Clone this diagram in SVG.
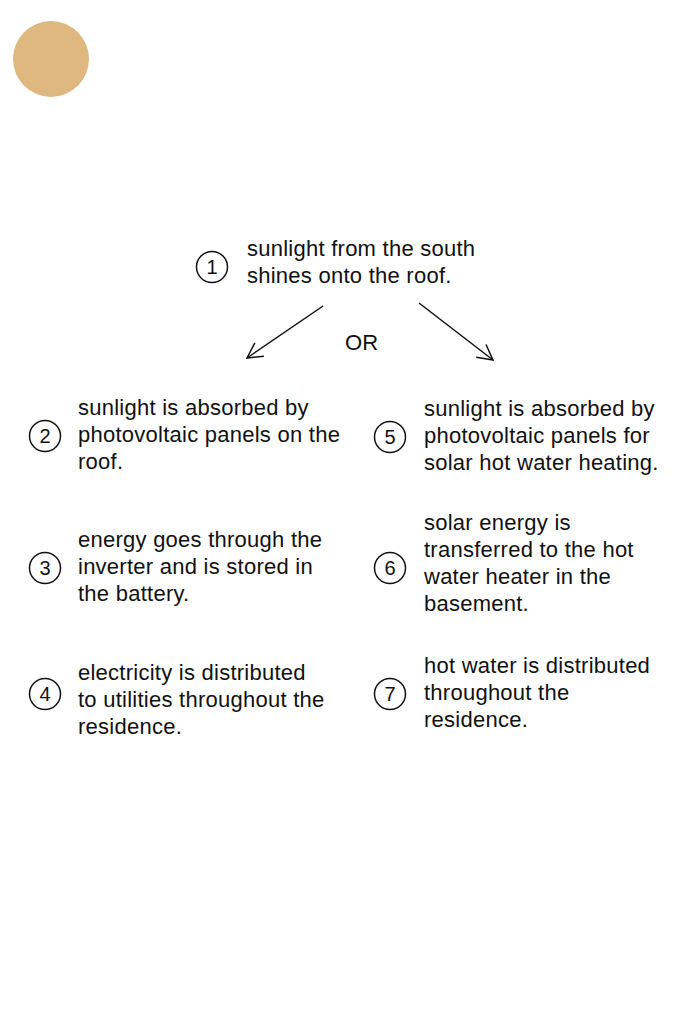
<svg xmlns="http://www.w3.org/2000/svg" width="694" height="1015" viewBox="0 0 694 1015">
<defs>
<style>
text{font-family:"Liberation Sans",Arial,sans-serif;font-size:22px;letter-spacing:0.25px;fill:#111}
.num{font-size:20px;letter-spacing:0;text-anchor:middle}
.ring{fill:none;stroke:#111;stroke-width:1.5}
.conn{fill:none;stroke:#111;stroke-width:1.5}
</style>
<marker id="chev" viewBox="0 0 20 20" refX="19" refY="10" markerWidth="20" markerHeight="20" markerUnits="userSpaceOnUse" orient="auto">
<path d="M4,2 L19,10 L4,18" fill="none" stroke="#111" stroke-width="1.5"/>
</marker>
</defs>
<rect width="694" height="1015" fill="#fff"/>
<circle id="sun" cx="51" cy="59" r="38" fill="#DEB87F"/>
<g id="n1"><circle class="ring" cx="212" cy="267" r="15.5"/><text class="num" x="212" y="274">1</text>
<text x="247" y="256">sunlight from the south</text><text x="247" y="283">shines onto the roof.</text></g>
<g id="connectors">
<line class="conn" x1="323" y1="306" x2="247" y2="358" marker-end="url(#chev)"/>
<line class="conn" x1="419" y1="303" x2="493" y2="360" marker-end="url(#chev)"/>
<text x="345" y="350">OR</text>
</g>
<g id="n2"><circle class="ring" cx="45" cy="436" r="15.5"/><text class="num" x="45" y="443">2</text>
<text x="78" y="415">sunlight is absorbed by</text><text x="78" y="442">photovoltaic panels on the</text><text x="78" y="469">roof.</text></g>
<g id="n3"><circle class="ring" cx="45" cy="568" r="15.5"/><text class="num" x="45" y="575">3</text>
<text x="78" y="547">energy goes through the</text><text x="78" y="574">inverter and is stored in</text><text x="78" y="601">the battery.</text></g>
<g id="n4"><circle class="ring" cx="45" cy="694" r="15.5"/><text class="num" x="45" y="701">4</text>
<text x="78" y="680">electricity is distributed</text><text x="78" y="707">to utilities throughout the</text><text x="78" y="734">residence.</text></g>
<g id="n5"><circle class="ring" cx="390" cy="437" r="15.5"/><text class="num" x="390" y="444">5</text>
<text x="424" y="416">sunlight is absorbed by</text><text x="424" y="443">photovoltaic panels for</text><text x="424" y="470">solar hot water heating.</text></g>
<g id="n6"><circle class="ring" cx="390" cy="568" r="15.5"/><text class="num" x="390" y="575">6</text>
<text x="424" y="530">solar energy is</text><text x="424" y="557">transferred to the hot</text><text x="424" y="584">water heater in the</text><text x="424" y="611">basement.</text></g>
<g id="n7"><circle class="ring" cx="390" cy="694" r="15.5"/><text class="num" x="390" y="701">7</text>
<text x="424" y="673">hot water is distributed</text><text x="424" y="700">throughout the</text><text x="424" y="727">residence.</text></g>
</svg>
